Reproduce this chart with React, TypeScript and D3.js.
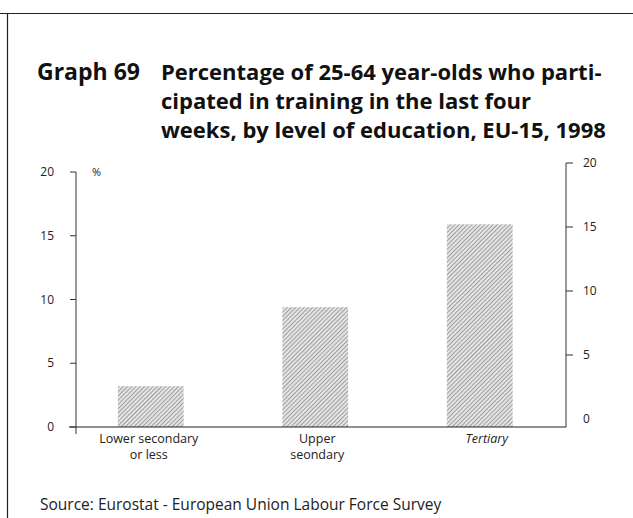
import React from "react";
import * as d3 from "d3";

const categories = ["Lower secondary|or less", "Upper|seondary", "Tertiary"];
const values = [3.2, 9.4, 15.9];
const leftTicks = [0, 5, 10, 15, 20];
const rightTicks = [0, 5, 10, 15, 20];
const titleLines = [
  "Percentage of 25-64 year-olds who parti-",
  "cipated in training in the last four",
  "weeks, by level of education, EU-15, 1998",
];

const W = 633;
const H = 518;

export default function App() {
  const x = d3.scaleBand<string>().domain(categories).range([68.5, 562]).paddingInner(0.6).paddingOuter(0.3);
  const y = d3.scaleLinear().domain([0, 20]).range([427, 172]);
  const yR = d3.scaleLinear().domain([0, 20]).range([419, 163]);
  const axL = 76;
  const axR = 566;
  const font = "'Open Sans', 'DejaVu Sans', sans-serif";
  return (
    <div style={{ position: "absolute", left: 0, top: 0, width: W, height: H, background: "#fff" }}>
      <svg width={W} height={H} style={{ display: "block" }} fontFamily={font}>
        <defs>
          <pattern id="hatch" width="3" height="3" patternUnits="userSpaceOnUse" patternTransform="rotate(45)">
            <rect width="3" height="3" fill="#e4e4e4" />
            <line x1="0" y1="0" x2="0" y2="3" stroke="#707070" strokeWidth="1.2" />
          </pattern>
        </defs>
        <rect width={W} height={H} fill="#fff" />
        {/* frame */}
        <line x1={0} x2={W} y1={13.5} y2={13.5} stroke="#222" strokeWidth={1.2} />
        <line x1={7.5} x2={7.5} y1={13} y2={H} stroke="#222" strokeWidth={1.2} />
        {/* title */}
        <text x={37} y={80} fontSize={23} fontWeight={700} fill="#111">Graph 69</text>
        {titleLines.map((t, i) => (
          <text key={i} x={161} y={80 + i * 29} fontSize={22} fontWeight={700} fill="#111">{t}</text>
        ))}
        {/* bars */}
        {categories.map((c, i) => (
          <rect key={c} x={x(c)} y={y(values[i])} width={x.bandwidth()} height={y(0) - y(values[i])} fill="url(#hatch)" />
        ))}
        {/* baseline */}
        <line x1={69} x2={axR} y1={y(0)} y2={y(0)} stroke="#222" strokeWidth={1} />
        {/* left axis */}
        <line x1={axL} x2={axL} y1={y(20)} y2={y(0) + 7} stroke="#333" strokeWidth={1} />
        {leftTicks.map((t) => (
          <g key={t}>
            <line x1={axL - 6} x2={axL} y1={y(t)} y2={y(t)} stroke="#333" strokeWidth={1} />
            <text x={54} y={y(t)} dy="0.35em" textAnchor="end" fontSize={12} fill="#222">{t}</text>
          </g>
        ))}
        <text x={92} y={y(20)} dy="0.35em" fontSize={11} fill="#222">%</text>
        {/* right axis */}
        <line x1={axR} x2={axR} y1={yR(20)} y2={y(0)} stroke="#333" strokeWidth={1} />
        {rightTicks.map((t) => (
          <g key={t}>
            {t > 0 && <line x1={axR} x2={axR + 7} y1={yR(t)} y2={yR(t)} stroke="#333" strokeWidth={1} />}
            <text x={583} y={yR(t)} dy="0.35em" fontSize={12} fill="#222">{t}</text>
          </g>
        ))}
        {/* x labels */}
        {categories.map((c) => {
          const lines = c.split("|");
          const cx = (x(c) as number) + x.bandwidth() / 2 + (c === "Tertiary" ? 7 : c.startsWith("Upper") ? 2 : -2);
          return lines.map((l, j) => (
            <text key={c + j} x={cx} y={443 + j * 16} textAnchor="middle" fontSize={12.5} fill="#222" fontStyle={c === "Tertiary" ? "italic" : "normal"}>
              {l}
            </text>
          ));
        })}
        {/* source */}
        <text x={40} y={510} fontSize={15.5} fill="#222">Source: Eurostat - European Union Labour Force Survey</text>
      </svg>
    </div>
  );
}
